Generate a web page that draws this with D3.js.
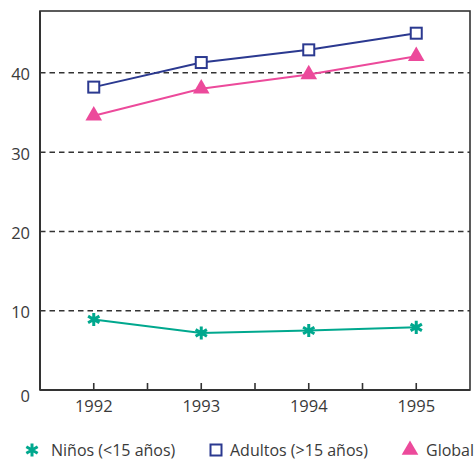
<!DOCTYPE html>
<html><head><meta charset="utf-8">
<script src="https://cdn.jsdelivr.net/npm/d3@7"></script>
<style>body{margin:0;background:#fff}text{font-family:"Open Sans","Noto Sans",sans-serif;fill:#3a3a3a}</style>
</head><body>
<svg id="c" width="476" height="461"></svg>
<script>
const years = [1992, 1993, 1994, 1995];
const ninos = [8.9, 7.2, 7.5, 7.9];
const adultos = [38.2, 41.3, 42.9, 45.0];
const global = [34.6, 38.0, 39.8, 42.1];
const yTicks = [0, 10, 20, 30, 40];
const seriesNames = ["Niños (<15 años)", "Adultos (>15 años)", "Global"];

const svg = d3.select("#c");
const L = 40, R = 470, T = 11, B = 390;
const x = d3.scaleLinear().domain([1991.5, 1995.5]).range([L, R]);
const y = d3.scaleLinear().domain([0, 47.8]).range([B, T]);

// gridlines
svg.append("g").selectAll("line").data(yTicks.filter(d => d > 0)).join("line")
  .attr("x1", L).attr("x2", R).attr("y1", d => y(d)).attr("y2", d => y(d))
  .attr("stroke", "#333").attr("stroke-width", 1.5).attr("stroke-dasharray", "5.5,4");

// frame
svg.append("rect").attr("x", L).attr("y", T).attr("width", R - L).attr("height", B - T)
  .attr("fill", "none").attr("stroke", "#333").attr("stroke-width", 1.6);
svg.append("line").attr("x1", L).attr("x2", L).attr("y1", T).attr("y2", B).attr("stroke", "#333").attr("stroke-width", 2);
svg.append("line").attr("x1", L).attr("x2", R).attr("y1", B).attr("y2", B).attr("stroke", "#333").attr("stroke-width", 2);

// x ticks inside
const xTickVals = d3.range(1992, 1995.01, 0.5);
svg.append("g").selectAll("line").data(xTickVals).join("line")
  .attr("x1", d => x(d)).attr("x2", d => x(d)).attr("y1", B).attr("y2", B - 7)
  .attr("stroke", "#333").attr("stroke-width", 1.6);

// axis labels
svg.append("g").selectAll("text").data(years).join("text")
  .attr("x", d => x(d)).attr("y", B + 15).attr("text-anchor", "middle")
  .attr("dominant-baseline", "central").attr("font-size", 16.5).text(d => d);
svg.append("g").selectAll("text").data(yTicks).join("text")
  .attr("x", 30).attr("y", d => y(d) + (d === 0 ? 5 : 1)).attr("text-anchor", "end")
  .attr("dominant-baseline", "central").attr("font-size", 16.5).text(d => d);

const cN = "#00a88e", cA = "#2b3990", cG = "#ec4a9b";
const line = d3.line().x((d, i) => x(years[i])).y(d => y(d));

function drawSeries(vals, color) {
  svg.append("path").datum(vals).attr("d", line).attr("fill", "none")
    .attr("stroke", color).attr("stroke-width", 2);
}
drawSeries(ninos, cN);
drawSeries(adultos, cA);
drawSeries(global, cG);

const star = d3.symbol().type(d3.symbolAsterisk).size(120);
const tri = d3.symbol().type(d3.symbolTriangle).size(120);

svg.append("g").selectAll("path").data(ninos).join("path")
  .attr("transform", (d, i) => `translate(${x(years[i])},${y(d)})`)
  .attr("d", star).attr("fill", "none").attr("stroke", cN).attr("stroke-width", 3);
svg.append("g").selectAll("rect").data(adultos).join("rect")
  .attr("x", (d, i) => x(years[i]) - 5.5).attr("y", d => y(d) - 5.5)
  .attr("width", 11).attr("height", 11).attr("fill", "#fff").attr("stroke", cA).attr("stroke-width", 2);
svg.append("g").selectAll("path").data(global).join("path")
  .attr("transform", (d, i) => `translate(${x(years[i])},${y(d)})`)
  .attr("d", tri).attr("fill", cG);

// legend
const lg = svg.append("g");
const ly = 450;
lg.append("path").attr("transform", `translate(32,${ly})`).attr("d", star)
  .attr("fill", "none").attr("stroke", cN).attr("stroke-width", 3);
lg.append("rect").attr("x", 210.5).attr("y", ly - 5.5).attr("width", 11).attr("height", 11)
  .attr("fill", "#fff").attr("stroke", cA).attr("stroke-width", 2);
lg.append("path").attr("transform", `translate(410,${ly})`).attr("d", tri).attr("fill", cG);
const lx = [51, 230, 426];
lg.selectAll("text").data(seriesNames).join("text")
  .attr("x", (d, i) => lx[i]).attr("y", ly).attr("dominant-baseline", "central")
  .attr("font-size", 16).text(d => d);
</script>
</body></html>
